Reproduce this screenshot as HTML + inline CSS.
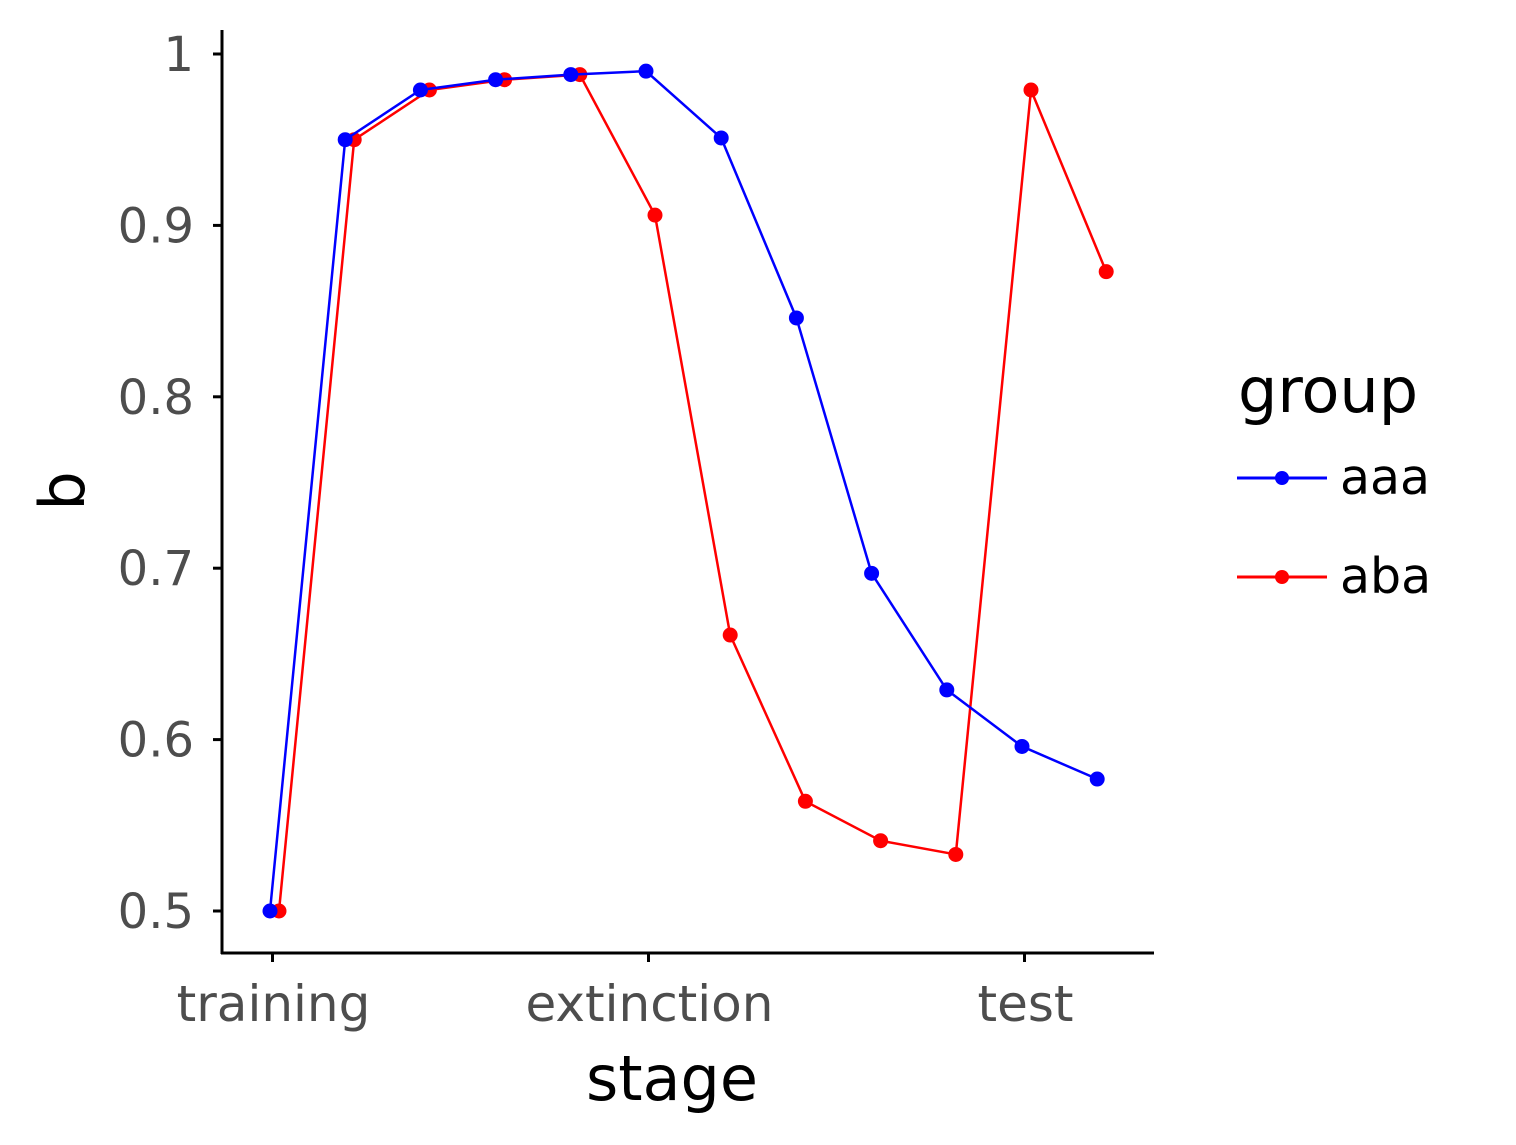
<!DOCTYPE html>
<html><head><meta charset="utf-8"><style>
html,body{margin:0;padding:0;background:#fff;}
svg{display:block;font-family:"DejaVu Sans","Liberation Sans",sans-serif;}
</style></head><body>
<svg id="chart" width="1516" height="1145" viewBox="0 0 1516 1145">
<g id="axes"></g>
<g id="series"></g>
<text x="672" y="1100" font-size="62" text-anchor="middle" fill="#000">stage</text>
<text transform="translate(84,491) rotate(-90)" font-size="62" text-anchor="middle" fill="#000">b</text>
<g>
<text x="1238" y="412" font-size="62" fill="#000">group</text>
<g>
<line x1="1237" y1="478" x2="1327" y2="478" stroke="#0000ff" stroke-width="3"/>
<circle cx="1282" cy="478" r="7" fill="#0000ff"/>
<text x="1340" y="494" font-size="49" fill="#000">aaa</text></g>
<g>
<line x1="1237" y1="577" x2="1327" y2="577" stroke="#ff0000" stroke-width="3"/>
<circle cx="1282" cy="577" r="7" fill="#ff0000"/>
<text x="1340" y="593" font-size="49" fill="#000">aba</text></g>
</g>
</svg>
<script>
const trials=[1,2,3,4,5,6,7,8,9,10,11,12];
const aaaValues=[0.5,0.950,0.979,0.985,0.988,0.990,0.951,0.846,0.697,0.629,0.596,0.577];
const abaValues=[0.5,0.950,0.979,0.985,0.988,0.906,0.661,0.564,0.541,0.533,0.979,0.873];
const xTickTrials=[1,6,11];
const xTickLabels=["training","extinction","test"];
const yTicks=[0.5,0.6,0.7,0.8,0.9,1];
const yTickLabels=["0.5","0.6","0.7","0.8","0.9","1"];

const NS="http://www.w3.org/2000/svg";
const xs=t=>274.5+(t-1)*75.2;
const ys=v=>911-(v-0.5)*1714;
function mk(tag,attrs,parent){const e=document.createElementNS(NS,tag);for(const k in attrs)e.setAttribute(k,attrs[k]);parent.appendChild(e);return e;}
const axes=document.getElementById('axes');
const yl=mk('line',{x1:222,y1:30,x2:222,y2:954,stroke:'#000','stroke-width':3},axes);


const xl=mk('line',{x1:221,y1:953,x2:1154,y2:953,stroke:'#000','stroke-width':3},axes);


yTicks.forEach((v,i)=>{
  const y=ys(v);
  mk('line',{x1:213,y1:y,x2:222,y2:y,stroke:'#000','stroke-width':3},axes);
  const t=mk('text',{x:194,y:y+17,'font-size':48,'text-anchor':'end',fill:'#4d4d4d'},axes);
  t.textContent=yTickLabels[i];
  
  
});
xTickTrials.forEach((tr,i)=>{
  const x=xs(tr)-2;
  mk('line',{x1:x,y1:953,x2:x,y2:962,stroke:'#000','stroke-width':3},axes);
  const t=mk('text',{x:x+1,y:1021,'font-size':50,'text-anchor':'middle',fill:'#4d4d4d'},axes);
  t.textContent=xTickLabels[i];
  
  
});
const series=document.getElementById('series');
function draw(vals,color,off,name){
  const g=mk('g',{},series);
  
  
  const pts=vals.map((v,i)=>(xs(trials[i])+off)+','+ys(v)).join(' ');
  const pl=mk('polyline',{points:pts,fill:'none',stroke:color,'stroke-width':2.5},g);
  
  
  vals.forEach((v,i)=>{
    const c=mk('circle',{cx:xs(trials[i])+off,cy:ys(v),r:7.5,fill:color},g);
    
    
  });
}
draw(aaaValues,'#0000ff',-4.5,'aaa');
draw(abaValues,'#ff0000',4.5,'aba');
series.appendChild(series.firstChild);
</script>
</body></html>
